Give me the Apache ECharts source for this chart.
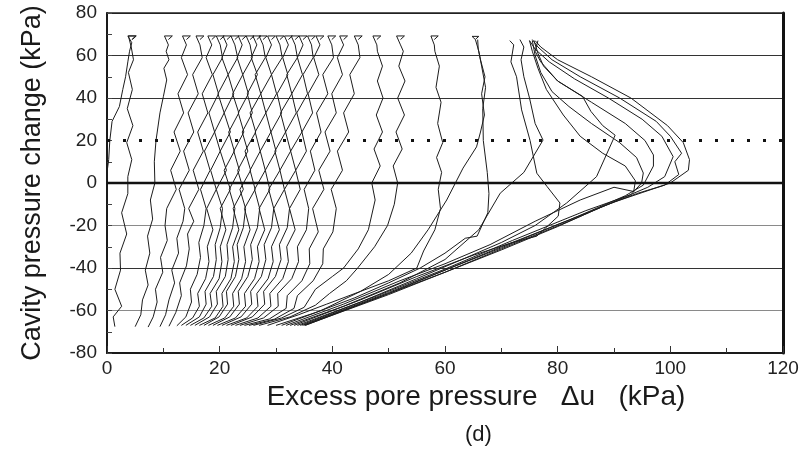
<!DOCTYPE html>
<html><head><meta charset="utf-8">
<script src="https://cdn.jsdelivr.net/npm/echarts@6/dist/echarts.min.js"></script>
<style>html,body{margin:0;padding:0;background:#fff}#c{width:811px;height:456px}</style>
</head><body><div id="c"></div>
<script>
// Axis ticks
const xTicks = [0, 20, 40, 60, 80, 100, 120];
const yTicks = [-80, -60, -40, -20, 0, 20, 40, 60, 80];
const xTitle = 'Excess pore pressure   \u0394u   (kPa)';
const yTitle = 'Cavity pressure change (kPa)';
const caption = '(d)';
const dottedLevel = 20;

// Left group curves [x, y] (bottom -> top)
const c0 = [[0,5],[0.3,11],[0.5,20],[0.9,29],[2.2,36],[2.8,44],[3.3,50],[3.7,57],[4.0,62],[4.4,66],[3.7,69.2],[5.1,69.2],[4.4,67.5]];
const c1 = [[1.4,-67.6],[1.1,-63],[2.6,-58],[1.4,-50],[2.4,-41],[2.3,-33],[3.5,-24],[2.6,-14],[3.7,-5],[3.7,3],[4.4,11],[3.5,19],[4.6,27],[3.6,35],[4.5,44],[3.8,52],[4.7,58],[4.3,64],[3.8,69.2],[5.2,69.2],[4.5,67.5]];
const c2 = [[5.0,-67.6],[6.0,-62],[6.3,-55],[7.3,-48],[6.8,-41],[7.6,-33],[7.2,-25],[8.1,-17],[7.7,-8],[8.5,0],[8.4,10],[8.7,20],[9.4,33],[10.0,40.6],[10.6,48.5],[10.1,54],[11.0,58],[10.5,62],[10.9,65],[10.2,69.2],[11.6,69.2],[10.9,67.5]];
const c3 = [[7.3,-67.8],[8.2,-63],[8.9,-56],[8.6,-50],[9.9,-42],[9.5,-35],[10.7,-27],[10.3,-20],[10.6,-12],[12.3,-3],[11.3,6],[13.0,15],[11.9,24],[13.6,33],[12.6,42],[14.3,51],[13.2,59],[14.1,65],[13.4,69.2],[14.8,69.2],[14.1,67.5]];
const c4 = [[9.4,-67.6],[10.4,-62],[11.0,-55],[12.0,-47],[11.5,-41],[12.7,-33],[12.4,-26],[13.5,-18],[13.8,-12],[12.8,-3],[14.6,6],[13.6,15],[15.4,24],[14.4,33],[16.2,42],[15.2,51],[16.9,59],[16.5,65],[15.8,69.2],[17.2,69.2],[16.5,67.5]];
const c5 = [[11.0,-67.4],[12.2,-61],[13.2,-53],[12.9,-47],[14.1,-39],[14.6,-31],[14.3,-24],[15.4,-18],[14.5,-12],[16.3,-3],[15.3,6],[17.1,15],[16.1,24],[17.9,33],[16.9,42],[18.7,51],[17.6,59],[18.6,65],[17.9,69.2],[19.3,69.2],[18.6,67.5]];
const c6 = [[12.4,-67.2],[14.0,-63],[15.0,-56],[14.8,-50],[16.0,-43],[16.6,-35],[16.3,-28],[17.2,-20],[17.6,-12],[16.6,-3],[18.3,6],[17.3,15],[19.1,24],[18.1,33],[19.8,42],[18.8,51],[20.5,59],[20.1,65],[19.4,69.2],[20.8,69.2],[20.1,67.5]];
const c7 = [[13.2,-67],[15.2,-63.5],[16.4,-58],[16.1,-52],[17.5,-45],[18.1,-37],[17.8,-30],[18.8,-22],[17.7,-12],[19.4,-3],[18.4,6],[20.1,15],[19.1,24],[20.8,33],[19.7,42],[21.5,51],[20.4,59],[21.3,65],[20.6,69.2],[22.0,69.2],[21.3,67.5]];
const c8 = [[14.0,-67],[16.4,-63],[17.6,-57],[17.4,-51],[18.9,-44],[19.4,-36],[19.2,-29],[20.1,-21],[20.5,-12],[19.4,-3],[21.2,6],[20.1,15],[21.9,24],[20.8,33],[22.5,42],[21.5,51],[23.2,59],[22.7,65],[22.0,69.2],[23.4,69.2],[22.7,67.5]];
const c9 = [[14.8,-67],[17.2,-63.5],[18.6,-58],[18.3,-52],[19.9,-45],[20.4,-37],[20.1,-30],[21.1,-22],[20.1,-12],[21.9,-3],[20.8,6],[22.6,15],[21.6,24],[23.4,33],[22.3,42],[24.1,51],[23.1,59],[24.0,65],[23.3,69.2],[24.7,69.2],[24.0,67.5]];
const c10 = [[15.6,-67],[18.2,-63],[19.6,-57],[19.4,-51],[21.0,-44],[21.5,-36],[21.3,-29],[22.3,-21],[22.7,-12],[21.7,-3],[23.5,6],[22.5,15],[24.3,24],[23.3,33],[25.1,42],[24.1,51],[25.8,59],[25.4,65],[24.7,69.2],[26.1,69.2],[25.4,67.5]];
const c11 = [[16.4,-67],[19.2,-63.5],[20.6,-58],[20.4,-52],[22.0,-45],[22.6,-37],[22.3,-30],[23.4,-22],[22.4,-12],[24.2,-3],[23.2,6],[25.0,15],[24.0,24],[25.8,33],[24.9,42],[26.7,51],[25.6,59],[26.6,65],[25.9,69.2],[27.3,69.2],[26.6,67.5]];
const c12 = [[17.2,-67],[19.9,-63],[21.4,-57],[21.2,-51],[22.8,-44],[23.4,-36],[23.1,-29],[24.2,-21],[24.6,-12],[23.6,-3],[25.5,6],[24.5,15],[26.4,24],[25.4,33],[27.3,42],[26.3,51],[28.1,59],[27.7,65],[27.0,69.2],[28.4,69.2],[27.7,67.5]];
const c13 = [[18.0,-67],[20.9,-63.5],[22.5,-58],[22.3,-52],[23.9,-45],[24.6,-37],[24.3,-30],[25.4,-22],[24.4,-12],[26.3,-3],[25.4,6],[27.2,15],[26.3,24],[28.2,33],[27.3,42],[29.2,51],[28.2,59],[29.2,65],[28.5,69.2],[29.9,69.2],[29.2,67.5]];
const c14 = [[18.8,-67],[21.8,-63],[23.5,-57],[23.3,-51],[25.0,-44],[25.8,-36],[25.5,-29],[26.7,-21],[27.1,-12],[26.2,-3],[28.1,6],[27.2,15],[29.1,24],[28.2,33],[30.1,42],[29.2,51],[31.1,59],[30.7,65],[30.0,69.2],[31.4,69.2],[30.7,67.5]];
const c15 = [[19.6,-67],[22.8,-63.5],[24.6,-58],[24.4,-52],[26.2,-45],[27.0,-37],[26.7,-30],[28.0,-22],[27.0,-12],[28.9,-3],[28.1,6],[30.0,15],[29.1,24],[31.0,33],[30.2,42],[32.1,51],[31.2,59],[32.2,65],[31.5,69.2],[32.9,69.2],[32.2,67.5]];
const c16 = [[20.4,-67],[23.8,-63],[25.7,-57],[25.5,-51],[27.4,-44],[28.2,-36],[27.9,-29],[29.2,-21],[29.6,-12],[28.7,-3],[30.7,6],[29.8,15],[31.7,24],[30.8,33],[32.8,42],[31.9,51],[33.8,59],[33.4,65],[32.7,69.2],[34.1,69.2],[33.4,67.5]];
const c17 = [[21.2,-67],[24.8,-63.5],[26.8,-58],[26.6,-52],[28.6,-45],[29.5,-37],[29.2,-30],[30.6,-22],[29.6,-12],[31.5,-3],[30.7,6],[32.6,15],[31.7,24],[33.6,33],[32.8,42],[34.7,51],[33.8,59],[34.8,65],[34.1,69.2],[35.5,69.2],[34.8,67.5]];
const c18 = [[22.0,-67],[25.8,-63],[28.0,-57],[27.8,-51],[29.9,-44],[30.9,-36],[30.6,-29],[32.0,-21],[32.4,-12],[31.5,-3],[33.5,6],[32.6,15],[34.6,24],[33.7,33],[35.6,42],[34.8,51],[36.6,59],[36.3,65],[35.6,69.2],[37.0,69.2],[36.3,67.5]];
const c19 = [[22.8,-67],[26.8,-63.5],[29.1,-58],[28.9,-52],[31.2,-45],[32.2,-37],[31.9,-30],[33.4,-22],[32.4,-12],[34.3,-3],[33.5,6],[35.4,15],[34.6,24],[36.5,33],[35.7,42],[37.6,51],[36.7,59],[37.8,65],[37.1,69.2],[38.5,69.2],[37.8,67.5]];
const c20 = [[23.6,-67],[27.8,-63.5],[30.4,-58],[30.3,-52],[32.8,-45],[34.0,-37],[33.8,-30],[35.4,-22],[35.8,-12],[35.0,-3],[36.9,6],[36.1,15],[38.0,24],[37.2,33],[39.2,42],[38.3,51],[40.2,59],[39.9,65],[39.2,69.2],[40.6,69.2],[39.9,67.5]];
const c21 = [[24.4,-67],[28.8,-64],[31.8,-59],[32.0,-53],[34.6,-46],[36.0,-38],[35.9,-31],[37.5,-23],[36.5,-12],[38.5,-3],[37.6,6],[39.6,15],[38.7,24],[40.7,33],[39.9,42],[41.8,51],[40.9,59],[42.0,65],[41.3,69.2],[42.7,69.2],[42.0,67.5]];
const c22 = [[25.2,-67],[29.8,-64],[33.2,-59],[33.8,-53],[36.6,-46],[38.3,-38],[38.4,-31],[40.1,-23],[40.7,-12],[39.8,-3],[41.8,6],[40.9,15],[42.9,24],[42.0,33],[43.9,42],[43.1,51],[44.9,59],[44.6,65],[43.9,69.2],[45.3,69.2],[44.6,67.5]];
const c23 = [[26.0,-67],[31.0,-63.5],[35.0,-58.5],[37.0,-50],[40.0,-44],[42.0,-40],[44.6,-31],[46.4,-22],[47.6,-8],[47.0,0],[48.5,8],[47.4,16],[48.9,24],[47.8,32],[49.0,40],[48.0,48],[48.9,55],[48.0,62],[47.9,65],[47.2,69.2],[48.6,69.2],[47.9,67.5]];
const c24 = [[27.0,-67],[32.5,-63],[37.0,-57.5],[39.5,-52],[42.5,-46],[44.5,-40],[47.5,-30],[49.8,-20],[51.0,-10],[51.6,0],[50.8,8],[52.4,16],[51.3,24],[52.8,32],[51.6,40],[52.9,48],[51.8,55],[52.6,62],[52.1,65],[51.4,69.2],[52.8,69.2],[52.1,67.5]];
const c25 = [[28.5,-67],[34,-62],[39,-57],[45,-51],[50,-46],[55,-40],[56.2,-32],[58.2,-22],[59.2,-12],[58.8,-3],[59.4,5],[58.5,12],[59.6,19],[58.7,28],[59.3,38],[58.4,45],[59.0,55],[58.2,62],[58.1,65],[57.5,69.2],[58.8,69.2],[58.1,67.5]];
const c26 = [[30.0,-67],[37,-61],[44,-54],[50,-47],[55.6,-40],[60,-33],[63.6,-26],[65.7,-25],[67.6,-14],[67.8,-5],[67.5,5],[66.8,20],[66.7,35],[67.2,45],[66.5,55],[66.0,62],[65.4,67.5],[64.8,69],[66.0,69],[65.4,67.6]];
const c27 = [[31.0,-67],[38,-60],[45,-51],[50,-43],[54,-33],[57,-22],[60.3,-8],[63.2,7],[65.6,17],[66.3,24],[67.0,32],[66.5,42],[67.1,50],[66.3,58],[65.9,63],[65.8,67.5]];

// Right group curves (bottom -> peak -> top)
const r1 = [[35.2,-67],[50,-52],[60,-41],[70,-30.5],[80,-19.5],[90,-9],[95,-4.5],[100,0],[103.2,6],[103.4,11],[102.3,19],[99.5,27],[93,40],[86,50],[80,58],[77,64],[76,67]];
const r2 = [[35.1,-67],[50,-52.5],[60,-42],[70,-31.5],[80,-20.5],[88,-11],[94,-5],[99,-1],[101.5,4],[100.8,10],[102,14],[100,22],[97.5,29],[91,40],[84,50],[79,58],[76.5,64],[75.5,67.5]];
const r3 = [[35.0,-66.8],[50,-52],[60,-42],[70,-31],[82,-18],[92,-6.5],[96,-2],[99,3],[100.5,12.4],[98.5,22],[95,30],[89,40],[83,49],[78.5,57],[76,63],[75,67]];
const r4 = [[34.7,-67],[50,-51.5],[60,-41],[70,-30],[82,-17.5],[92,-6],[95.2,-1],[97,8],[97,13.2],[95.5,20],[92,28],[86,38],[80,48],[77,57],[76,62],[76.5,67]];
const r5 = [[34.3,-67],[48,-53],[60,-40.5],[72,-27],[85,-13],[93,-5.5],[94.9,0],[95.2,4.7],[94,12],[91,19],[86,28],[82,36],[79,43],[77,52],[76,60],[75.5,67]];
const r6 = [[33.8,-67],[45,-56],[55,-45],[63,-36],[70,-28],[76,-20],[81.6,-9.4],[86.9,3],[90.2,22.5],[88,27],[85.9,33.7],[84.4,40.8],[80,48],[77.5,55],[76.5,61],[75.8,67]];
const r7 = [[33.2,-67],[45,-55],[55,-44],[65,-34],[72,-28],[76.3,-25],[80.1,-15.6],[80.4,-9.4],[78.1,-1.6],[76.3,4.6],[75.1,20],[73.6,34.4],[72.7,50],[71.7,57],[72.2,65],[71.5,67]];
const r8 = [[32.5,-67],[42,-58],[52,-47],[60,-36],[66,-22],[69.8,-4.8],[74,5],[77.4,20.2],[76,28],[75,40],[74,50],[73.5,58],[74,64],[73.3,67.5]];
const r9 = [[31.8,-67],[42,-57],[52,-46],[60,-38],[68,-29],[76,-18],[84,-8],[90,-2],[93.5,-4],[93.8,1],[92,8],[88,14],[84,22],[81,32],[78,44],[76.5,54],[75.5,62],[75,67]];

const curves = [c0,c1,c2,c3,c4,c5,c6,c7,c8,c9,c10,c11,c12,c13,c14,c15,c16,c17,c18,c19,c20,c21,c22,c23,c24,c25,c26,c27,r1,r2,r3,r4,r5,r6,r7,r8,r9];

const FONT = '"Liberation Sans", Arial, sans-serif';
const chart = echarts.init(document.getElementById('c'), null, {renderer: 'canvas'});

const series = curves.map(d => ({
  type: 'line', data: d, showSymbol: false, symbol: 'none', silent: true,
  lineStyle: {color: '#1c1c1c', width: 1}, animation: false, z: 3
}));
series.push({
  type: 'line', data: [], silent: true, animation: false,
  markLine: {
    silent: true, symbol: 'none', label: {show: false}, animation: false,
    data: [
      {yAxis: 0, lineStyle: {color: '#111', width: 2.4, type: 'solid'}},
      {yAxis: dottedLevel, lineStyle: {color: '#111', width: 3, type: [3, 13], dashOffset: 0}}
    ]
  }
});

chart.setOption({
  backgroundColor: '#fff',
  animation: false,
  grid: {left: 107, right: 28, top: 13, bottom: 103, containLabel: false},
  xAxis: [{
    type: 'value', min: xTicks[0], max: xTicks[xTicks.length-1], interval: 20,
    name: xTitle, nameLocation: 'middle', nameGap: 20,
    nameTextStyle: {fontFamily: FONT, fontSize: 28, color: '#1a1a1a', padding: [0, 0, 0, 62]},
    axisLine: {show: true, onZero: false, lineStyle: {color: '#1a1a1a', width: 2}},
    axisTick: {show: true, inside: true, length: 7, lineStyle: {color: '#333', width: 1}},
    minorTick: {show: true, splitNumber: 2, length: 5, lineStyle: {color: '#333', width: 1}},
    axisLabel: {fontFamily: FONT, fontSize: 19, color: '#222', margin: 6},
    splitLine: {show: false}
  }, {
    type: 'value', position: 'top', min: 0, max: 120,
    axisLine: {show: true, onZero: false, lineStyle: {color: '#222', width: 1.5}},
    axisTick: {show: false}, axisLabel: {show: false}, splitLine: {show: false}
  }],
  yAxis: [{
    type: 'value', min: yTicks[0], max: yTicks[yTicks.length-1], interval: 20,
    name: yTitle, nameLocation: 'middle', nameGap: 61, nameRotate: 90,
    nameTextStyle: {fontFamily: FONT, fontSize: 27, color: '#1a1a1a'},
    axisLine: {show: true, onZero: false, lineStyle: {color: '#1a1a1a', width: 2}},
    axisTick: {show: true, inside: true, length: 5, lineStyle: {color: '#444', width: 1}},
    minorTick: {show: true, splitNumber: 2, length: 5, lineStyle: {color: '#444', width: 1}},
    axisLabel: {fontFamily: FONT, fontSize: 19, color: '#222', margin: 10},
    splitLine: {show: true, lineStyle: {width: 1,
      color: ['#222', '#8a8a8a', '#333', '#8a8a8a', 'rgba(0,0,0,0)', 'rgba(0,0,0,0)', '#333', '#333', '#222']}}
  }, {
    type: 'value', position: 'right', min: -80, max: 80,
    axisLine: {show: true, onZero: false, lineStyle: {color: '#111', width: 3}},
    axisTick: {show: false}, axisLabel: {show: false}, splitLine: {show: false}
  }],
  graphic: [{
    type: 'text', left: 465, top: 424,
    style: {text: caption, font: '22px ' + FONT, fill: '#1a1a1a'}
  }],
  series: series
});
</script>
</body></html>
